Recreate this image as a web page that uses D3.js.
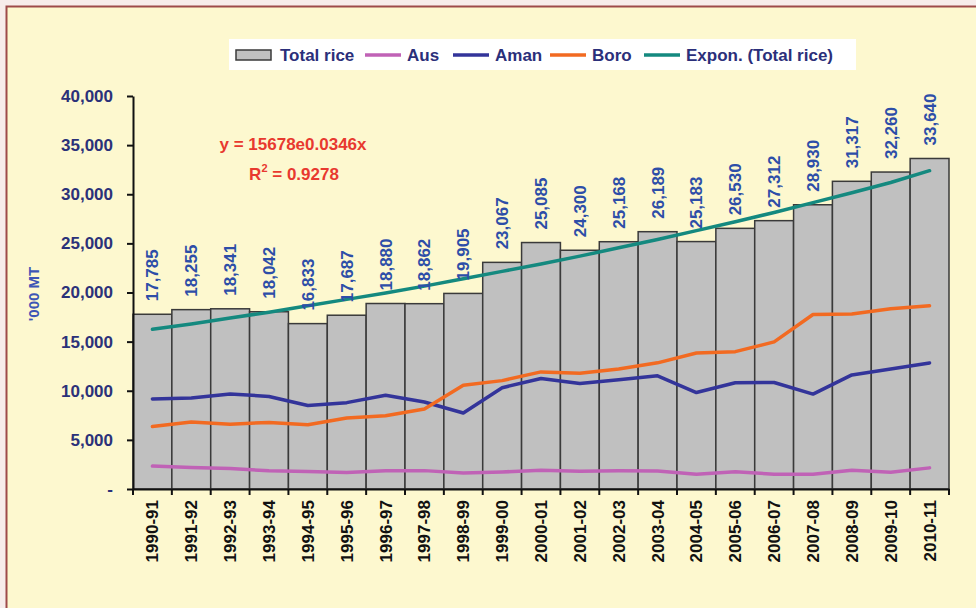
<!DOCTYPE html>
<html>
<head>
<meta charset="utf-8">
<script src="https://cdn.jsdelivr.net/npm/d3@7"></script>
<style>
  body { margin: 0; background: #f7eceb; }
  svg { display: block; font-family: Arial, "Liberation Sans", sans-serif; font-weight: bold; }
  .y-axis text { fill: #2b3179; font-size: 17px; }
  .x-axis text { fill: #111; font-size: 17px; }
  .domain, .tick line { stroke: #111; stroke-width: 2px; }
  .bar { fill: #c0c0c0; stroke: #3a3a3a; stroke-width: 1.5px; }
  .bar-label { fill: #2d4ea8; font-size: 17px; }
  .series { fill: none; stroke-width: 3.5px; stroke-linejoin: round; stroke-linecap: round; }
  .legend-label { fill: #2b2f7a; font-size: 17px; }
  .equation { fill: #e8392f; font-size: 17px; }
</style>
</head>
<body>
<div id="wrapper"></div>
<script>
const years = ["1990-91", "1991-92", "1992-93", "1993-94", "1994-95", "1995-96",
  "1996-97", "1997-98", "1998-99", "1999-00", "2000-01", "2001-02", "2002-03",
  "2003-04", "2004-05", "2005-06", "2006-07", "2007-08", "2008-09", "2009-10", "2010-11"]

const totalRice = [17785, 18255, 18341, 18042, 16833, 17687, 18880, 18862, 19905, 23067,
  25085, 24300, 25168, 26189, 25183, 26530, 27312, 28930, 31317, 32260, 33640]

const aus = [2330, 2180, 2080, 1850, 1790, 1680, 1870, 1870, 1620, 1730,
  1920, 1810, 1850, 1830, 1500, 1750, 1510, 1510, 1900, 1710, 2150]

const aman = [9170, 9270, 9680, 9420, 8500, 8790, 9550, 8850, 7740, 10310,
  11250, 10730, 11120, 11520, 9820, 10810, 10840, 9660, 11610, 12210, 12830]

const boro = [6360, 6810, 6590, 6780, 6540, 7220, 7460, 8140, 10550, 11030,
  11920, 11770, 12220, 12840, 13840, 13980, 14970, 17760, 17810, 18340, 18650]

// exponential trend
const trend = [16250, 16800, 17400, 18000, 18650, 19300, 19950, 20650, 21400, 22150,
  22900, 23700, 24550, 25400, 26300, 27200, 28150, 29150, 30150, 31200, 32400]

const yTicks = [0, 5000, 10000, 15000, 20000, 25000, 30000, 35000, 40000]

const legendItems = ["Total rice", "Aus", "Aman", "Boro", "Expon. (Total rice)"]
const lineColors = {
  "Aus": "#c062b6",
  "Aman": "#33349a",
  "Boro": "#f26a21",
  "Expon. (Total rice)": "#14897f",
}

async function drawChart() {

  // 1. Access data
  const dataset = years.map((year, i) => ({
    year,
    total: totalRice[i],
    aus: aus[i],
    aman: aman[i],
    boro: boro[i],
    trend: trend[i],
  }))
  const xAccessor = d => d.year
  const totalAccessor = d => d.total

  // 2. Create chart dimensions
  let dimensions = {
    width: 976,
    height: 608,
    margin: {
      top: 96,
      right: 27,
      bottom: 119,
      left: 133,
    },
  }
  dimensions.boundedWidth = dimensions.width
    - dimensions.margin.left
    - dimensions.margin.right
  dimensions.boundedHeight = dimensions.height
    - dimensions.margin.top
    - dimensions.margin.bottom

  // 3. Draw canvas
  const wrapper = d3.select("#wrapper")
    .append("svg")
      .attr("width", dimensions.width)
      .attr("height", dimensions.height)

  wrapper.append("rect")
      .attr("width", dimensions.width)
      .attr("height", dimensions.height)
      .attr("fill", "#f7eceb")
  wrapper.append("rect")
      .attr("x", 6)
      .attr("y", 6)
      .attr("width", dimensions.width - 6)
      .attr("height", dimensions.height - 6)
      .attr("fill", "#fdf8cf")
  wrapper.append("path")
      .attr("d", `M6.5,${dimensions.height} V6.5 H${dimensions.width}`)
      .attr("fill", "none")
      .attr("stroke", "#9e4a4a")
      .attr("stroke-width", 2)

  const bounds = wrapper.append("g")
      .style("transform", `translate(${
        dimensions.margin.left
      }px, ${
        dimensions.margin.top
      }px)`)

  // 4. Create scales
  const xScale = d3.scaleBand()
    .domain(years)
    .range([0, dimensions.boundedWidth])
    .padding(0)

  const yScale = d3.scaleLinear()
    .domain([0, 40000])
    .range([dimensions.boundedHeight, 0])

  const xCenter = d => xScale(xAccessor(d)) + xScale.bandwidth() / 2

  // 5. Draw data
  bounds.append("g")
    .selectAll("rect")
    .data(dataset)
    .join("rect")
      .attr("class", "bar")
      .attr("x", d => xScale(xAccessor(d)))
      .attr("y", d => yScale(totalAccessor(d)))
      .attr("width", xScale.bandwidth())
      .attr("height", d => dimensions.boundedHeight - yScale(totalAccessor(d)))

  const series = [
    { name: "Aus", accessor: d => d.aus },
    { name: "Aman", accessor: d => d.aman },
    { name: "Boro", accessor: d => d.boro },
    { name: "Expon. (Total rice)", accessor: d => d.trend },
  ]

  series.forEach(s => {
    const lineGenerator = d3.line()
      .x(xCenter)
      .y(d => yScale(s.accessor(d)))
    bounds.append("path")
        .attr("class", "series")
        .attr("stroke", lineColors[s.name])
        .attr("d", lineGenerator(dataset))
  })

  bounds.append("g")
    .selectAll("text")
    .data(dataset)
    .join("text")
      .attr("class", "bar-label")
      .attr("transform", d => `translate(${xCenter(d) + 6}, ${yScale(totalAccessor(d)) - 13}) rotate(-90)`)
      .text(d => d3.format(",")(totalAccessor(d)))

  // 6. Draw peripherals
  const yAxisGenerator = d3.axisLeft()
    .scale(yScale)
    .tickValues(yTicks)
    .tickSizeOuter(0)
    .tickSizeInner(6)
    .tickPadding(14)
    .tickFormat(d => d === 0 ? "-" : d3.format(",")(d))

  bounds.append("g")
      .attr("class", "y-axis")
    .call(yAxisGenerator)

  const xAxisGenerator = d3.axisBottom()
    .scale(xScale)
    .tickSize(0)
    .tickSizeOuter(0)

  const xAxis = bounds.append("g")
      .attr("class", "x-axis")
      .style("transform", `translateY(${dimensions.boundedHeight}px)`)
    .call(xAxisGenerator)

  xAxis.selectAll(".tick text")
      .attr("transform", "rotate(-90)")
      .attr("text-anchor", "end")
      .attr("x", -11)
      .attr("y", 0)
      .attr("dy", "0.35em")

  xAxis.append("g")
    .selectAll("line")
    .data([...years, null])
    .join("line")
      .attr("x1", d => d === null ? dimensions.boundedWidth : xScale(d))
      .attr("x2", d => d === null ? dimensions.boundedWidth : xScale(d))
      .attr("y1", 0)
      .attr("y2", 6)
      .attr("stroke", "#111")
      .attr("stroke-width", 2)

  wrapper.append("text")
      .attr("transform", `translate(39, 294) rotate(-90)`)
      .attr("text-anchor", "middle")
      .attr("fill", "#3d55b5")
      .style("font-size", "15px")
      .text("'000 MT")

  // trendline equation
  const equation = wrapper.append("g")
      .attr("class", "equation")
  equation.append("text")
      .attr("x", 293)
      .attr("y", 150)
      .attr("text-anchor", "middle")
      .text("y = 15678e0.0346x")
  const r2 = equation.append("text")
      .attr("x", 294)
      .attr("y", 180)
      .attr("text-anchor", "middle")
  r2.append("tspan").text("R")
  r2.append("tspan").attr("dy", -8).style("font-size", "11px").text("2")
  r2.append("tspan").attr("dy", 8).text(" = 0.9278")

  // legend
  const legend = wrapper.append("g")
  legend.append("rect")
      .attr("x", 229)
      .attr("y", 39)
      .attr("width", 627)
      .attr("height", 31)
      .attr("fill", "#ffffff")

  const legendX = [236, 365, 453, 550, 644]
  const legendY = 55
  legendItems.forEach((name, i) => {
    const x = legendX[i]
    if (name === "Total rice") {
      legend.append("rect")
          .attr("x", x)
          .attr("y", legendY - 5)
          .attr("width", 35)
          .attr("height", 10)
          .attr("fill", "#c0c0c0")
          .attr("stroke", "#3a3a3a")
          .attr("stroke-width", 1.5)
    } else {
      legend.append("line")
          .attr("x1", x)
          .attr("x2", x + 36)
          .attr("y1", legendY)
          .attr("y2", legendY)
          .attr("stroke", lineColors[name])
          .attr("stroke-width", 3.5)
    }
    legend.append("text")
        .attr("class", "legend-label")
        .attr("x", x + (name === "Total rice" ? 44 : 42))
        .attr("y", legendY)
        .attr("dy", "0.35em")
        .text(name)
  })
}
drawChart()
</script>
</body>
</html>
